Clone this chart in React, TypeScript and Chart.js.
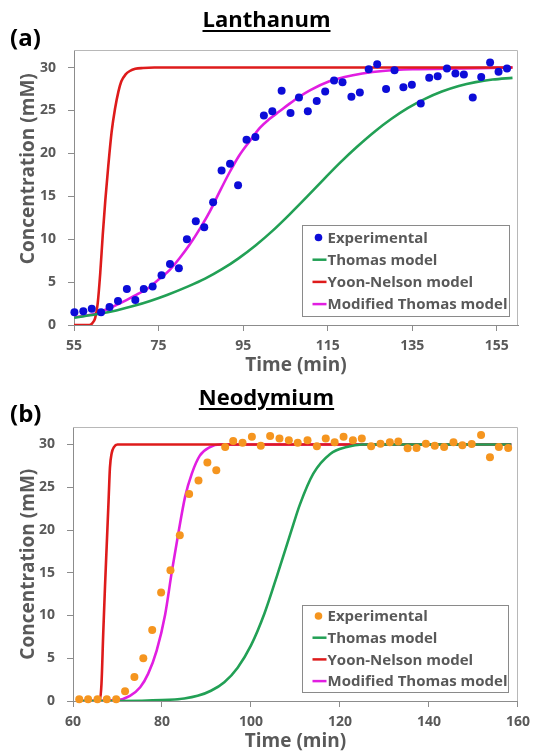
import React, { useEffect, useRef } from 'react';
import { Chart, registerables } from 'chart.js';

Chart.register(...registerables);

// ---------- Lanthanum (a) ----------
const laTime = [55.1, 57.2, 59.2, 61.4, 63.4, 65.4, 67.5, 69.5, 71.5, 73.6, 75.7, 77.7, 79.8, 81.7, 83.8, 85.8, 87.9, 89.9, 91.9, 93.8, 95.8, 97.9, 99.9, 101.9, 104.1, 106.2, 108.2, 110.3, 112.4, 114.4, 116.5, 118.5, 120.6, 122.6, 124.7, 126.7, 128.8, 130.8, 132.9, 134.9, 137.0, 139.0, 141.0, 143.2, 145.2, 147.2, 149.3, 151.3, 153.4, 155.4, 157.4];
const laConc = [1.5, 1.6, 1.9, 1.5, 2.1, 2.8, 4.2, 2.9, 4.2, 4.5, 5.8, 7.1, 6.6, 10.0, 12.1, 11.4, 14.3, 18.0, 18.8, 16.3, 21.6, 21.9, 24.4, 24.9, 27.3, 24.7, 26.5, 24.9, 26.1, 27.2, 28.5, 28.3, 26.6, 27.1, 29.8, 30.4, 27.5, 29.7, 27.7, 28.0, 25.8, 28.8, 29.0, 29.9, 29.3, 29.2, 26.5, 28.9, 30.6, 29.5, 29.9];

const laThomasT = [55, 61, 65, 69, 73, 77, 82, 86, 90, 94, 98, 102, 106, 110, 114, 118, 122, 126, 130, 134, 138, 142, 146, 150, 154, 158.7];
const laThomasC = [0.85, 1.3, 1.7, 2.2, 2.8, 3.5, 4.5, 5.4, 6.5, 7.8, 9.3, 11.0, 12.9, 14.9, 16.95, 18.95, 20.8, 22.5, 24.0, 25.3, 26.35, 27.2, 27.85, 28.3, 28.6, 28.8];

const laYoonT = [55, 58.6, 59.3, 60.0, 60.6, 61.2, 61.8, 62.4, 63.1, 63.9, 64.7, 65.5, 66.2, 67.2, 68.2, 69.5, 71.3, 74, 158.7];
const laYoonC = [0, 0, 0.2, 0.8, 2.5, 6.0, 10.5, 14.5, 18.5, 22.5, 25.2, 27.2, 28.4, 29.2, 29.6, 29.85, 29.95, 30, 30];

const laModT = [55, 58, 61, 64, 67.4, 70, 72.9, 75, 77.6, 80, 82.4, 85, 87.1, 89.5, 91.8, 94, 96.5, 99, 101.2, 103.6, 106, 108.3, 111, 115.4, 119, 123.2, 128, 135, 146.8, 158.7];
const laModC = [0.9, 1.1, 1.5, 2.1, 2.9, 3.6, 4.4, 5.3, 6.4, 7.8, 9.4, 11.4, 13.2, 15.6, 17.8, 19.7, 21.4, 23.0, 24.0, 24.9, 25.8, 26.6, 27.4, 28.4, 28.9, 29.3, 29.6, 29.8, 29.9, 30];

// ---------- Neodymium (b) ----------
const ndTime = [61.4, 63.4, 65.5, 67.6, 69.7, 71.7, 73.8, 75.8, 77.8, 79.8, 81.9, 84.0, 86.1, 88.2, 90.2, 92.2, 94.2, 96.0, 98.1, 100.2, 102.2, 104.3, 106.4, 108.5, 110.5, 112.7, 114.8, 116.8, 118.8, 120.8, 122.9, 124.9, 127.0, 129.1, 131.2, 133.1, 135.2, 137.2, 139.3, 141.3, 143.4, 145.5, 147.5, 149.6, 151.7, 153.7, 155.7, 157.8];
const ndConc = [0.2, 0.2, 0.2, 0.2, 0.2, 1.15, 2.8, 5.0, 8.3, 12.7, 15.3, 19.4, 24.2, 25.8, 27.9, 27.0, 29.7, 30.4, 30.2, 30.9, 29.85, 31.0, 30.7, 30.5, 30.2, 30.5, 29.8, 30.7, 30.25, 30.9, 30.5, 30.7, 29.8, 30.1, 30.25, 30.35, 29.55, 29.6, 30.1, 29.85, 29.7, 30.25, 29.9, 30.05, 31.1, 28.5, 29.7, 29.6];

const ndThomasT = [61, 70, 80, 85, 88, 91, 94, 97, 100, 103, 106, 109, 111, 114, 117.8, 121.5, 125, 158.5];
const ndThomasC = [0, 0, 0.1, 0.3, 0.6, 1.2, 2.2, 3.9, 6.5, 10.2, 14.9, 19.8, 23.0, 26.6, 28.9, 29.7, 30, 30];

const ndYoonT = [61, 66, 66.4, 66.8, 67.2, 67.6, 68, 68.3, 68.7, 69.2, 70, 80, 158.5];
const ndYoonC = [0, 0, 2, 8, 13.5, 18.5, 23.5, 27.3, 29, 29.7, 30, 30, 30];

const ndModT = [61, 69.8, 72.8, 75.1, 76.9, 78.8, 80.7, 82.2, 83.7, 85.2, 86.7, 88.5, 90.8, 93, 158.5];
const ndModC = [0, 0.1, 0.6, 1.6, 3.2, 5.9, 10.1, 15.1, 19.7, 23.9, 26.6, 28.7, 29.7, 30, 30];

// ---------- axes / labels ----------
const laXTicks = [55, 75, 95, 115, 135, 155];
const ndXTicks = [60, 80, 100, 120, 140, 160];
const yTicks = [0, 5, 10, 15, 20, 25, 30];
const seriesLabels = ['Experimental', 'Thomas model', 'Yoon-Nelson model', 'Modified Thomas model'];

const FONT = "'Open Sans', sans-serif";
const GRAY = '#595959';
const AXIS = '#8c8c8c';
const FRAME = '#b8b8b8';
const GREEN = '#22a055';
const RED = '#de1b1b';
const MAGENTA = '#e11ee1';

const pts = (xs: number[], ys: number[]) => xs.map((x, i) => ({ x, y: ys[i] }));

const framePlugin = {
  id: 'plotFrame',
  beforeDatasetsDraw(chart: any) {
    const { ctx, chartArea } = chart;
    const { left, top, right, bottom } = chartArea;
    ctx.save();
    ctx.strokeStyle = FRAME;
    ctx.lineWidth = 1;
    ctx.beginPath();
    ctx.moveTo(left, Math.round(top) + 0.5);
    ctx.lineTo(Math.round(right) - 0.5, Math.round(top) + 0.5);
    ctx.lineTo(Math.round(right) - 0.5, bottom);
    ctx.stroke();
    ctx.restore();
  },
};

const legendPlugin = {
  id: 'boxLegend',
  afterDraw(chart: any, _args: any, opts: any) {
    const { ctx, chartArea } = chart;
    const w = opts.width, h = opts.height, gap = opts.gap;
    const x0 = Math.round(chartArea.right - opts.right - w) + 0.5;
    const y0 = Math.round(chartArea.bottom - opts.bottom - h) + 0.5;
    ctx.save();
    ctx.fillStyle = '#ffffff';
    ctx.fillRect(x0, y0, w, h);
    ctx.strokeStyle = '#8a8a8a';
    ctx.lineWidth = 1;
    ctx.strokeRect(x0, y0, w, h);
    ctx.font = `bold 15px ${FONT}`;
    ctx.textBaseline = 'middle';
    ctx.textAlign = 'left';
    chart.data.datasets.forEach((ds: any, i: number) => {
      const cy = y0 + opts.first + i * gap;
      if (ds.showLine) {
        ctx.strokeStyle = ds.borderColor;
        ctx.lineWidth = 2.5;
        ctx.beginPath();
        ctx.moveTo(x0 + 10, cy);
        ctx.lineTo(x0 + 24, cy);
        ctx.stroke();
      } else {
        ctx.fillStyle = ds.backgroundColor;
        ctx.beginPath();
        ctx.arc(x0 + 16, cy, 3.8, 0, Math.PI * 2);
        ctx.fill();
      }
      ctx.fillStyle = GRAY;
      ctx.fillText(ds.label, x0 + 25, cy + 1);
    });
    ctx.restore();
  },
};

function makeConfig(p: {
  exp: { x: number; y: number }[];
  thomas: { x: number; y: number }[];
  yoon: { x: number; y: number }[];
  mod: { x: number; y: number }[];
  dotColor: string;
  xMin: number;
  xMax: number;
  xTicks: number[];
  yWidth: number;
  padRight: number;
  yTitleShift: number;
  legend: any;
}): any {
  const line = (label: string, data: any, color: string) => ({
    label,
    data,
    showLine: true,
    borderColor: color,
    backgroundColor: color,
    borderWidth: 2.6,
    pointRadius: 0,
    cubicInterpolationMode: 'monotone',
  });
  return {
    type: 'scatter',
    data: {
      datasets: [
        {
          label: seriesLabels[0],
          data: p.exp,
          showLine: false,
          pointRadius: 4,
          pointBorderWidth: 0,
          backgroundColor: p.dotColor,
          borderColor: p.dotColor,
          clip: false,
        },
        line(seriesLabels[1], p.thomas, GREEN),
        line(seriesLabels[2], p.yoon, RED),
        line(seriesLabels[3], p.mod, MAGENTA),
      ],
    },
    options: {
      animation: false,
      responsive: false,
      maintainAspectRatio: false,
      layout: { padding: { top: 17, right: p.padRight, left: 0, bottom: 0 } },
      plugins: {
        legend: { display: false },
        tooltip: { enabled: false },
        boxLegend: p.legend,
      },
      scales: {
        x: {
          type: 'linear',
          min: p.xMin,
          max: p.xMax,
          afterBuildTicks: (axis: any) => {
            axis.ticks = p.xTicks.map((v) => ({ value: v }));
          },
          afterFit: (s: any) => {
            s.height = 55;
          },
          grid: { drawOnChartArea: false, drawTicks: true, tickLength: 6, color: AXIS },
          border: { display: true, color: AXIS, width: 1 },
          ticks: {
            color: GRAY,
            font: { family: FONT, size: 14, weight: 'bold' },
            padding: 7,
            maxRotation: 0,
            autoSkip: false,
          },
          title: {
            display: true,
            text: 'Time (min)',
            color: GRAY,
            font: { family: FONT, size: 19, weight: 'bold' },
            padding: { top: 0, bottom: 3 },
          },
        },
        y: {
          type: 'linear',
          min: 0,
          max: 32,
          afterBuildTicks: (axis: any) => {
            axis.ticks = yTicks.map((v) => ({ value: v }));
          },
          afterFit: (s: any) => {
            s.width = p.yWidth;
            if (p.yTitleShift && !s.__shiftWrapped) {
              const orig = s.drawTitle.bind(s);
              s.drawTitle = () => {
                s.ctx.save();
                s.ctx.translate(0, p.yTitleShift);
                orig();
                s.ctx.restore();
              };
              s.__shiftWrapped = true;
            }
          },
          grid: { drawOnChartArea: false, drawTicks: true, tickLength: 6, color: AXIS },
          border: { display: true, color: AXIS, width: 1 },
          ticks: {
            color: GRAY,
            font: { family: FONT, size: 14, weight: 'bold' },
            padding: 12,
          },
          title: {
            display: true,
            text: 'Concentration (mM)',
            color: GRAY,
            font: { family: FONT, size: 19, weight: 'bold' },
            padding: { top: 17, bottom: 0 },
          },
        },
      },
    },
    plugins: [framePlugin, legendPlugin],
  };
}

const labelStyle: React.CSSProperties = {
  position: 'absolute',
  fontFamily: FONT,
  fontWeight: 700,
  color: '#000',
  lineHeight: 1,
  whiteSpace: 'nowrap',
  margin: 0,
};

const titleStyle: React.CSSProperties = {
  ...labelStyle,
  left: -2,
  width: 537,
  textAlign: 'center',
  fontSize: 22,
  textDecoration: 'underline',
  textUnderlineOffset: 3,
  textDecorationThickness: 2,
};

export default function App() {
  const topRef = useRef<HTMLCanvasElement | null>(null);
  const botRef = useRef<HTMLCanvasElement | null>(null);

  useEffect(() => {
    Chart.defaults.font.family = FONT;
    const c1 = new Chart(
      topRef.current as HTMLCanvasElement,
      makeConfig({
        exp: pts(laTime, laConc),
        thomas: pts(laThomasT, laThomasC),
        yoon: pts(laYoonT, laYoonC),
        mod: pts(laModT, laModC),
        dotColor: '#0c0cd8',
        xMin: 55,
        xMax: 160,
        xTicks: laXTicks,
        yWidth: 74,
        padRight: 19,
        yTitleShift: -19,
        legend: { width: 207, height: 91, gap: 22.2, first: 12, right: 9, bottom: 9 },
      })
    );
    const c2 = new Chart(
      botRef.current as HTMLCanvasElement,
      makeConfig({
        exp: pts(ndTime, ndConc),
        thomas: pts(ndThomasT, ndThomasC),
        yoon: pts(ndYoonT, ndYoonC),
        mod: pts(ndModT, ndModC),
        dotColor: '#f5951f',
        xMin: 60,
        xMax: 160,
        xTicks: ndXTicks,
        yWidth: 73,
        padRight: 18,
        yTitleShift: 0,
        legend: { width: 206, height: 87, gap: 21.7, first: 10.5, right: 10, bottom: 9 },
      })
    );
    return () => {
      c1.destroy();
      c2.destroy();
    };
  }, []);

  return (
    <div
      style={{
        position: 'absolute',
        left: 0,
        top: 0,
        width: 537,
        height: 756,
        background: '#fff',
        overflow: 'hidden',
        fontFamily: FONT,
      }}
    >
      <canvas
        ref={topRef}
        width={537}
        height={350}
        style={{ position: 'absolute', left: 0, top: 30, width: 537, height: 350, display: 'block' }}
      />
      <canvas
        ref={botRef}
        width={537}
        height={349}
        style={{ position: 'absolute', left: 0, top: 407, width: 537, height: 349, display: 'block' }}
      />
      <div style={{ ...labelStyle, left: 10, top: 25, fontSize: 24 }}>(a)</div>
      <div style={{ ...titleStyle, top: 7 }}>Lanthanum</div>
      <div style={{ ...labelStyle, left: 10, top: 401, fontSize: 24 }}>(b)</div>
      <div style={{ ...titleStyle, top: 385 }}>Neodymium</div>
    </div>
  );
}
